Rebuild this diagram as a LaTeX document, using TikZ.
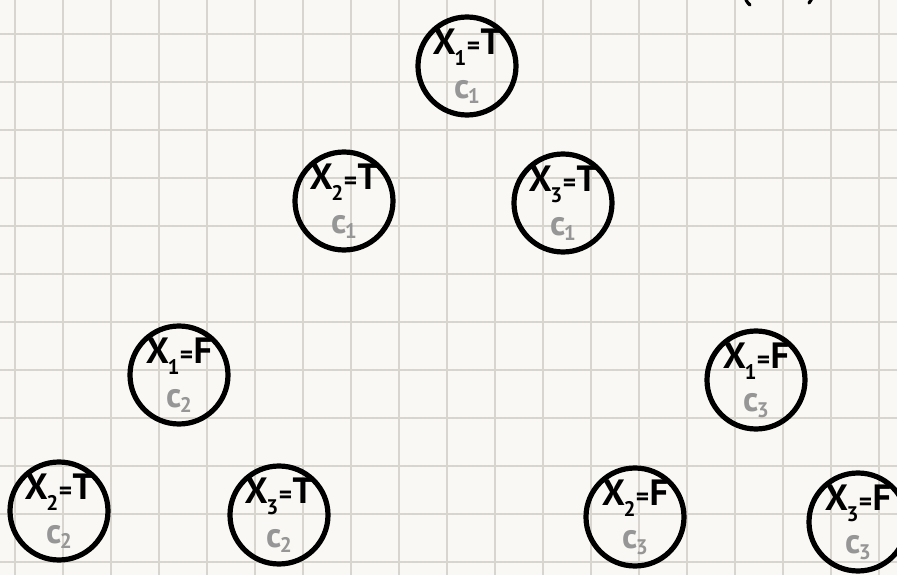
\documentclass[tikz,border=0pt]{standalone}
\usepackage{fontspec}
\setmainfont{PT Sans}
\definecolor{paper}{RGB}{250,248,244}
\definecolor{gridline}{RGB}{216,212,206}
\definecolor{soft}{RGB}{150,150,150}
\usetikzlibrary{positioning}
\tikzset{
  assign/.style={circle,draw=black,line width=1.3mm,minimum size=24.5mm,
    inner sep=-3mm,align=center,font=\bfseries\fontsize{26}{26}\selectfont},
}
\newcommand{\var}[2]{X\kern-1pt\raisebox{-0.3em}{\fontsize{15}{15}\selectfont #1}\kern0.3pt{\fontsize{18}{18}\selectfont=}\kern0.3pt#2}
\newcommand{\cls}[1]{\\[1.8mm]{\color{soft}\fontsize{25}{25}\selectfont c\kern-1pt\raisebox{-0.15em}{\fontsize{15}{15}\selectfont #1}}}

\begin{document}
\begin{tikzpicture}[x=0.25mm,y=-0.25mm]
        \useasboundingbox (0,0) rectangle (897,575);
        \clip (0,0) rectangle (897,575);
        \fill[paper] (0,0) rectangle (897,575);
        \foreach \gx in {15,63,...,879}
          \draw[gridline,line width=0.45mm] (\gx,0) -- (\gx,575);
        \foreach \gy in {34,82,...,562}
          \draw[gridline,line width=0.45mm] (0,\gy) -- (897,\gy);
        % cut-off marks at the top edge
        \draw[line width=0.8mm,line cap=round] (745,-4) to[bend right=20] (750,5);
        \draw[line width=0.8mm,line cap=round] (812,-4) to[bend left=20] (809,3);
        % first level
        \node[assign] (x1t) at (467,66) {\var{1}{T}\cls{1}};
        \node[assign] (x2t) at (344,201) {\var{2}{T}\cls{1}};
        \node[assign] (x3t) at (563,203) {\var{3}{T}\cls{1}};
        % second level
        \node[assign] (x1f) at (179,375) {\var{1}{F}\cls{2}};
        \node[assign] (x1fb) at (756,380) {\var{1}{F}\cls{3}};
        % third level
        \node[assign] (x2tb) at (59,511) {\var{2}{T}\cls{2}};
        \node[assign] (x3tb) at (279,515) {\var{3}{T}\cls{2}};
        \node[assign] (x2f) at (635,517) {\var{2}{F}\cls{3}};
        \node[assign] (x3f) at (858,522) {\var{3}{F}\cls{3}};
      \end{tikzpicture}
\end{document}
